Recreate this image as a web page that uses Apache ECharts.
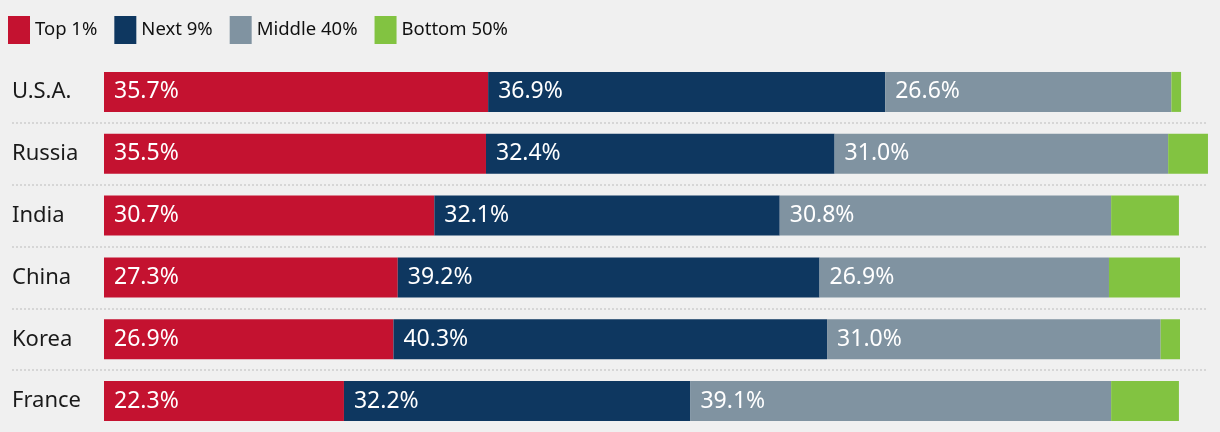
<!DOCTYPE html>
<html>
<head>
<meta charset="utf-8">
<script src="https://cdn.jsdelivr.net/npm/echarts@6/dist/echarts.min.js"></script>
<style>
html,body{margin:0;padding:0;background:#f0f0f0;}
#c{width:1220px;height:432px;}
</style>
</head>
<body>
<div id="c"></div>
<script>
const categories = ['U.S.A.', 'Russia', 'India', 'China', 'Korea', 'France'];
const seriesNames = ['Top 1%', 'Next 9%', 'Middle 40%', 'Bottom 50%'];
const top1 = [35.7, 35.5, 30.7, 27.3, 26.9, 22.3];
const next9 = [36.9, 32.4, 32.1, 39.2, 40.3, 32.2];
const middle40 = [26.6, 31.0, 30.8, 26.9, 31.0, 39.1];
const bottom50 = [0.9, 3.7, 6.3, 6.6, 1.8, 6.3];
const colors = ['#c41230', '#0e3760', '#8093a1', '#82c341'];
const showLabel = [true, true, true, false];

const FONT = 'Noto Sans';
const chart = echarts.init(document.getElementById('c'), null, {renderer: 'canvas'});
const values = [top1, next9, middle40, bottom50];

const option = {
  backgroundColor: '#f0f0f0',
  animation: false,
  textStyle: {fontFamily: FONT},
  legend: {
    left: 8, top: 16, padding: 0,
    itemWidth: 22, itemHeight: 28, itemGap: 17,
    icon: 'rect',
    textStyle: {fontFamily: FONT, fontSize: 18.5, color: '#111'},
    data: seriesNames
  },
  grid: [
    {left: 104, right: 40, top: 61, height: 372},
    {left: 12, right: 12, top: 61, height: 372}
  ],
  xAxis: [
    {type: 'value', min: 0, max: 100, gridIndex: 0, show: false},
    {type: 'value', min: 0, max: 100, gridIndex: 1, show: false}
  ],
  yAxis: [
    {
      type: 'category', data: categories, inverse: true, gridIndex: 0,
      axisLine: {show: false}, axisTick: {show: false}, splitLine: {show: false},
      axisLabel: {align: 'left', margin: 92, fontFamily: FONT, fontSize: 22, color: '#1a1a1a'}
    },
    {
      type: 'category', data: categories, inverse: true, gridIndex: 1,
      axisLine: {show: false}, axisTick: {show: false}, axisLabel: {show: false},
      splitLine: {show: true, showMinLine: false, showMaxLine: false,
        lineStyle: {color: '#d6d6d6', width: 2, type: [2, 2]}}
    }
  ],
  series: seriesNames.map((name, i) => ({
    name: name,
    type: 'bar',
    stack: 'total',
    xAxisIndex: 0, yAxisIndex: 0,
    barWidth: 40,
    clip: false,
    z: 3,
    itemStyle: {color: colors[i]},
    label: {
      show: showLabel[i],
      position: 'insideLeft',
      distance: 10,
      fontFamily: FONT, fontSize: 23, color: '#fff',
      formatter: p => p.value.toFixed(1) + '%'
    },
    data: values[i]
  }))
};
chart.setOption(option);
</script>
</body>
</html>
